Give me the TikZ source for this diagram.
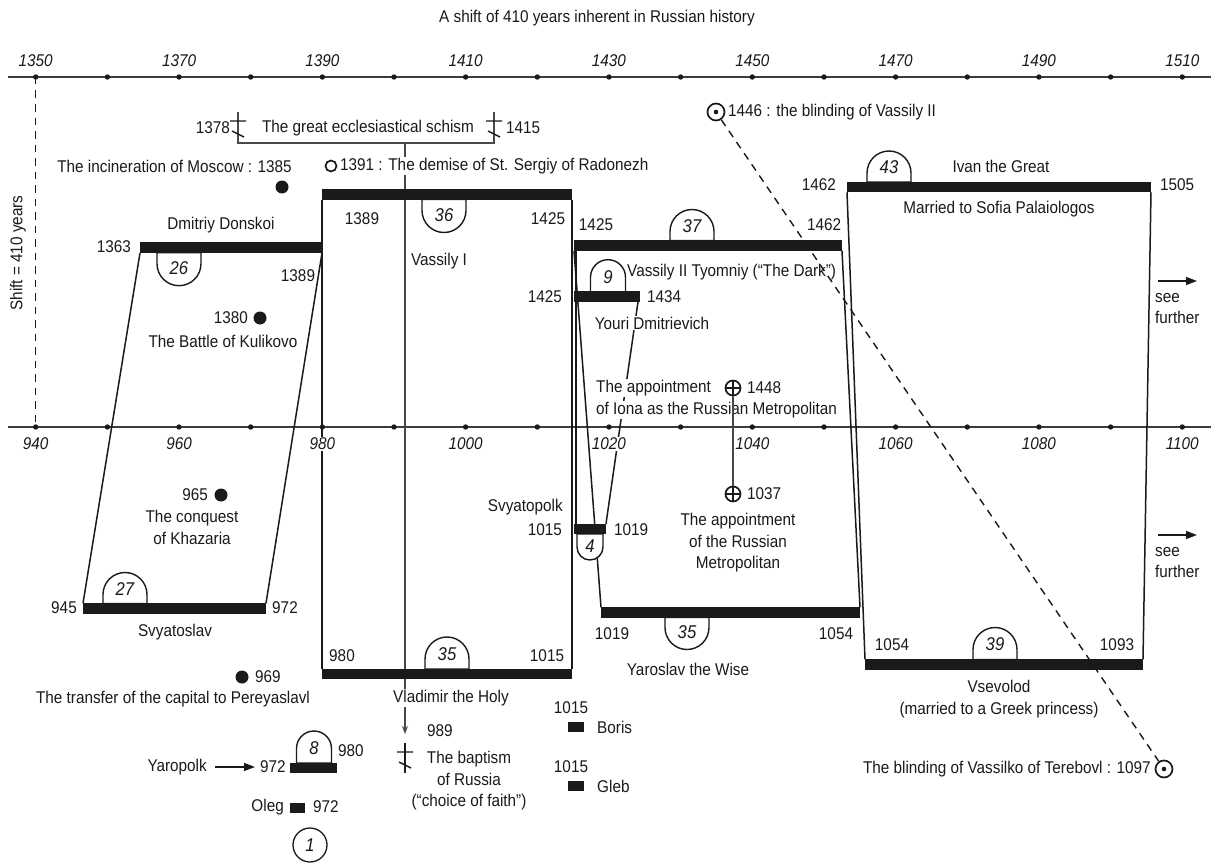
\documentclass[tikz,border=0pt]{standalone}
\usepackage{fontspec}
\setmainfont{Liberation Sans}[FakeStretch=0.9]
\usetikzlibrary{arrows.meta}
\definecolor{ink}{HTML}{1A1A1A}
\newcommand\crossbars[2]{%
  \draw[crossln] (#1-8,#2+9) -- (#1+8,#2+9) (#1-6,#2+19) -- (#1+6,#2+25);}
\newcommand\badgeup[6]{% cx, ybase, width, height, label, name
  \filldraw[badgeln] (#1-#3/2,#2) -- (#1-#3/2,#2-#4+#3/2) arc[start angle=180,end angle=360,radius=#3/2] -- (#1+#3/2,#2) -- cycle;
  \node[badgenum] (#6) at (#1,#2-#4/2+1) {#5};}
\newcommand\badgedown[6]{%
  \filldraw[badgeln] (#1-#3/2,#2) -- (#1-#3/2,#2+#4-#3/2) arc[start angle=180,end angle=0,radius=#3/2] -- (#1+#3/2,#2) -- cycle;
  \node[badgenum] (#6) at (#1,#2+#4/2-1) {#5};}
\begin{document}
\begin{tikzpicture}[x=1pt,y=-1pt,
  txt/.style={font=\fontsize{17pt}{21.5pt}\selectfont, text=ink, inner sep=1pt},
  mask/.style={txt, fill=white},
  ital/.style={font=\fontsize{17pt}{19pt}\selectfont\itshape, text=ink, inner sep=1pt},
  badgenum/.style={font=\fontsize{18.5pt}{19pt}\selectfont\itshape, text=ink, inner sep=0},
  barnode/.style={fill=ink, inner sep=0, outer sep=0, minimum height=10.5pt, draw=none},
  sq/.style={fill=ink, inner sep=0, outer sep=0, minimum height=10pt, draw=none},
  sideln/.style={draw=ink, line width=1.5pt},
  axisln/.style={draw=ink!85, line width=1.2pt},
  thinln/.style={draw=ink!80, line width=1.1pt},
  crossln/.style={draw=ink, line width=1.4pt},
  badgeln/.style={draw=ink, line width=1.4pt, fill=white},
  evdot/.style={circle, fill=ink, inner sep=0, minimum size=13pt},
  ringnode/.style={circle, draw=ink, line width=1.7pt, minimum size=11pt, inner sep=0},
  bullseye/.style={circle, draw=ink, line width=1.7pt, minimum size=17pt, inner sep=0,
     path picture={\fill[ink] (path picture bounding box.center) circle (2.3pt);}},
  oplus/.style={circle, draw=ink, line width=1.7pt, minimum size=15pt, inner sep=0,
     path picture={\draw[ink, line width=1.7pt] (path picture bounding box.north) -- (path picture bounding box.south) (path picture bounding box.west) -- (path picture bounding box.east);}},
  dashln/.style={draw=ink, line width=1.4pt, dash pattern=on 7.5pt off 6pt},
  arrln/.style={draw=ink, line width=1.4pt, -{Triangle[length=11pt,width=8pt]}}
]
\useasboundingbox (0,0) rectangle (1211,867);
\fill[white] (0,0) rectangle (1211,867);

% ---------- axes ----------
\coordinate (taL) at (8,77); \coordinate (taR) at (1211,77);
\coordinate (baL) at (8,427); \coordinate (baR) at (1211,427);
\draw[axisln] (taL) -- (taR);
\draw[axisln] (baL) -- (baR);
\coordinate (shT) at (35.7,77); \coordinate (shB) at (35.7,427);
\draw[dashln] (shT) -- (shB);

% ---------- schism bracket and central line ----------
\coordinate (sc1) at (238,112); \coordinate (sc2) at (494,112);
\coordinate (br1) at (238,143); \coordinate (br2) at (494,143);
\coordinate (brC) at (405,143); \coordinate (arrTip) at (405,734);
\draw[thinln] (sc1) -- (br1) -- (br2) -- (sc2);
\crossbars{238}{112}
\crossbars{494}{112}
\draw[thinln, -{Stealth[length=8pt,width=6pt]}] (brC) -- (arrTip);
\coordinate (bcT) at (405,743); \coordinate (bcB) at (405,773);
\draw[crossln] (bcT) -- (bcB);
\crossbars{405}{743}

% ---------- bars (nodes) ----------
\path
  (231,247.7)  node[barnode, minimum width=182pt] (donskoi) {}
  (447,194.5)  node[barnode, minimum width=250pt] (vasI) {}
  (708,245.5)  node[barnode, minimum width=268pt] (vasII) {}
  (607,296.7)  node[barnode, minimum width=66pt]  (youri) {}
  (999,187)    node[barnode, minimum width=304pt] (ivan) {}
  (174.5,608.5) node[barnode, minimum width=183pt] (svyatoslav) {}
  (447,674)    node[barnode, minimum width=250pt] (vladimir) {}
  (590,529)    node[barnode, minimum width=32pt]  (svyatopolk) {}
  (730.5,612.5) node[barnode, minimum width=259pt] (yaroslav) {}
  (1004,664.5) node[barnode, minimum width=278pt] (vsevolod) {}
  (313.5,768)  node[barnode, minimum width=47pt]  (yaropolk) {};

% ---------- sides ----------
\draw[sideln] (donskoi.south west) -- (svyatoslav.north west);
\draw[sideln] (donskoi.south east) -- (svyatoslav.north east);
\draw[sideln] (vasI.south west) -- (vladimir.north west);
\draw[sideln] (vasI.south east) -- (vladimir.north east);
\draw[sideln] (vasII.south west) -- (yaroslav.north west);
\draw[sideln] (vasII.south east) -- (yaroslav.north east);
\draw[sideln] ([xshift=2pt]vasII.south west) -- ([xshift=2pt]svyatopolk.north west);
\draw[sideln] ([xshift=-2pt]youri.south east) -- (svyatopolk.north east);
\draw[sideln] (ivan.south west) -- (vsevolod.north west);
\draw[sideln] (ivan.south east) -- (vsevolod.north east);

% ---------- tick dots and axis labels ----------
\foreach \i in {0,...,16}{
  \fill[ink] (35.7+71.66*\i,77) circle (2.7);
  \fill[ink] (35.7+71.66*\i,427) circle (2.7);
}
\foreach \i in {0,2,...,16}{
  \pgfmathtruncatemacro\yrtop{1350+10*\i}
  \pgfmathtruncatemacro\yrbot{940+10*\i}
  \node[ital] (top\i) at (35.7+71.66*\i,61) {\yrtop};
  \node[ital, fill=white] (bot\i) at (35.7+71.66*\i,444) {\yrbot};
}

% ---------- badges ----------
\badgedown{179}{252.7}{44}{33}{26}{b26}
\badgedown{444}{199.5}{44}{33}{36}{b36}
\badgeup{692}{240.5}{44}{31}{37}{b37}
\badgeup{608}{291.7}{35}{32}{9}{b9}
\badgeup{889}{182}{44}{31}{43}{b43}
\badgedown{590}{534}{26}{26}{4}{b4}
\badgedown{687}{617.5}{44}{32}{35}{b35a}
\badgeup{125}{603.5}{44}{31}{27}{b27}
\badgeup{447}{669}{44}{32}{35}{b35b}
\badgeup{995}{659.5}{44}{32}{39}{b39}
\badgeup{314}{763}{35}{32}{8}{b8}

% redraw bars on top of badge bases
\path
  (231,247.7)  node[barnode, minimum width=182pt] {}
  (447,194.5)  node[barnode, minimum width=250pt] {}
  (708,245.5)  node[barnode, minimum width=268pt] {}
  (607,296.7)  node[barnode, minimum width=66pt] {}
  (999,187)    node[barnode, minimum width=304pt] {}
  (174.5,608.5) node[barnode, minimum width=183pt] {}
  (447,674)    node[barnode, minimum width=250pt] {}
  (590,529)    node[barnode, minimum width=32pt] {}
  (730.5,612.5) node[barnode, minimum width=259pt] {}
  (1004,664.5) node[barnode, minimum width=278pt] {}
  (313.5,768)  node[barnode, minimum width=47pt] {};

% ---------- top texts ----------
\node[txt] (title) at (597,18) {A shift of 410 years inherent in Russian history};
\node[txt, rotate=90] (shift) at (18,253) {Shift = 410 years};
\node[txt, anchor=east] (y1378) at (231,128) {1378};
\node[txt] (schism) at (368,128) {The great ecclesiastical schism};
\node[txt, anchor=west] (y1415) at (505,128) {1415};
\node[txt, anchor=east] (incin) at (293,166) {The incineration of Moscow : 1385};
\node[evdot] (d1385) at (282,187) {};
\node[ringnode] (o1391) at (331,166) {};
\node[mask, anchor=west] (demise) at (339,166) {1391 : The demise of St. Sergiy of Radonezh};
\node[bullseye] (bl1446) at (716,112) {};
\node[txt, anchor=west] (blind1) at (727,112) {1446 : the blinding of Vassily II};
\node[txt] (ivanT) at (1001,166) {Ivan the Great};
\node[txt, anchor=east] (i1462) at (837,185) {1462};
\node[txt, anchor=west] (i1505) at (1159,185) {1505};
\node[txt] (sofia) at (999,209) {Married to Sofia Palaiologos};
\node[txt] (dmitriy) at (221,225) {Dmitriy Donskoi};
\node[txt, anchor=east] (d1363) at (132,247) {1363};
\node[txt] (d1389) at (298,276) {1389};
\node[txt] (v1389) at (362,219) {1389};
\node[txt] (v1425) at (548,219) {1425};
\node[txt] (vasIT) at (439,261) {Vassily I};
\node[evdot] (d1380) at (260,318) {};
\node[txt, anchor=east] (t1380) at (249,318) {1380};
\node[txt] (kulikovo) at (223,341) {The Battle of Kulikovo};
\node[txt] (w1425) at (596,225) {1425};
\node[txt, anchor=west] (w1462) at (806,225) {1462};
\node[txt, anchor=west] (vasIIT) at (626,272) {Vassily II Tyomniy (“The Dark”)};
\node[txt, anchor=east] (u1425) at (563,297) {1425};
\node[txt, anchor=west] (u1434) at (646,297) {1434};
\node[mask] (youriT) at (652,323) {Youri Dmitrievich};
\node[mask, anchor=west] (iona1) at (595,388) {The appointment};
\node[oplus] (ap1448) at (733,388) {};
\node[txt, anchor=west] (a1448) at (746,388) {1448};
\node[mask, anchor=west] (iona2) at (595,410) {of Iona as the Russian Metropolitan};
\coordinate (sf1a) at (1158,281); \coordinate (sf1b) at (1197,281);
\draw[arrln] (sf1a) -- (sf1b);
\node[txt, anchor=north west, align=left] (sf1) at (1154,292) {see\\further};

% ---------- bottom texts ----------
\node[evdot] (d965) at (221,495) {};
\node[txt, anchor=east] (t965) at (209,495) {965};
\node[txt, align=center] (khazaria) at (192,527.5) {The conquest\\of Khazaria};
\node[txt, anchor=east] (svpT) at (564,507) {Svyatopolk};
\node[txt, anchor=east] (s1015) at (563,530) {1015};
\node[txt, anchor=west] (s1019) at (613,530) {1019};
\node[oplus] (ap1037) at (733,494) {};
\node[txt, anchor=west] (a1037) at (746,494) {1037};
\node[txt, align=center] (metro) at (738,543) {The appointment\\of the Russian\\Metropolitan};
\coordinate (sf2a) at (1158,535); \coordinate (sf2b) at (1197,535);
\draw[arrln] (sf2a) -- (sf2b);
\node[txt, anchor=north west, align=left] (sf2) at (1154,546) {see\\further};
\node[txt] (x945) at (64,608) {945};
\node[txt] (x972) at (285,608) {972};
\node[txt] (svyatoslavT) at (175,632) {Svyatoslav};
\node[txt] (y1019) at (612,634) {1019};
\node[txt] (y1054) at (836,634) {1054};
\node[txt] (yaroslavT) at (688,669) {Yaroslav the Wise};
\node[txt] (v980) at (342,656) {980};
\node[txt] (v1015) at (547,656) {1015};
\node[mask] (vladimirT) at (451,698) {Vladimir the Holy};
\node[txt] (e1054) at (892,645) {1054};
\node[txt] (e1093) at (1117,645) {1093};
\node[txt, align=center] (vsevolodT) at (999,699) {Vsevolod\\(married to a Greek princess)};
\node[evdot] (d969) at (242,677) {};
\node[txt, anchor=west] (t969) at (254,677) {969};
\node[txt] (transfer) at (173,699) {The transfer of the capital to Pereyaslavl};
\node[txt, anchor=west] (t989) at (426,731) {989};
\node[txt, align=center] (baptism) at (469,781) {The baptism\\of Russia\\(“choice of faith”)};
\node[txt] (b1015) at (571,708) {1015};
\node[sq, minimum width=16pt] (boris) at (576,727) {};
\node[txt, anchor=west] (borisT) at (596,727) {Boris};
\node[txt] (g1015) at (571,767) {1015};
\node[sq, minimum width=16pt] (gleb) at (576,785.5) {};
\node[txt, anchor=west] (glebT) at (596,786) {Gleb};
\node[bullseye] (bl1097) at (1164,769) {};
\node[txt, anchor=east] (blind2) at (1152,769) {The blinding of Vassilko of Terebovl : 1097};
\node[txt, anchor=east] (yaropolkT) at (208,767) {Yaropolk};
\node[txt, anchor=west] (y972) at (259,767) {972};
\draw[arrln] ([xshift=7pt]yaropolkT.east) -- ([xshift=-4pt]y972.west);
\node[txt, anchor=west] (y980) at (337,751) {980};
\node[txt, anchor=east] (olegT) at (285,807) {Oleg};
\node[sq, minimum width=15pt] (oleg) at (297.5,808) {};
\node[txt, anchor=west] (o972) at (312,807) {972};
\node[circle, draw=ink, line width=1.3pt, minimum size=34pt, inner sep=0,
      font=\fontsize{18.5pt}{19pt}\selectfont\itshape, text=ink] (one) at (310,845) {1};

% ---------- lines drawn over text ----------
\draw[thinln, line width=1.2pt] (ap1448) -- (ap1037);
\draw[dashln] (bl1446) -- (bl1097);
\end{tikzpicture}
\end{document}
